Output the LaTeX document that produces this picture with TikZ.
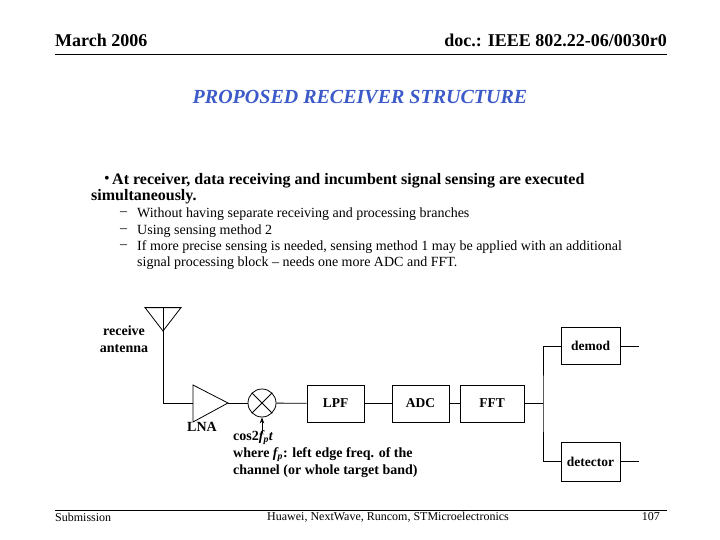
\documentclass[tikz,border=0pt]{standalone}
\usepackage{fontspec}
\setmainfont{Liberation Serif}
\usetikzlibrary{arrows.meta}
\definecolor{ttl}{RGB}{60,90,200}
\begin{document}
\begin{tikzpicture}[x=1pt,y=-1pt,
  blk/.style={draw,thick,minimum width=57pt,minimum height=37pt,font=\bfseries\fontsize{13.5}{15}\selectfont},
  wire/.style={thick},
  txt/.style={inner sep=0pt,anchor=west}]
\useasboundingbox (0,0) rectangle (720,540);
% header/footer
\node[txt,font=\bfseries\fontsize{18}{20}\selectfont] (hl) at (55,40) {March 2006};
\node[inner sep=0pt,anchor=east,font=\bfseries\fontsize{18}{20}\selectfont] (hr) at (667,40) {doc.: IEEE 802.22-06/0030r0};
\draw[thick] (55,54) -- (667,54);
\draw[thick] (55,510) -- (667,510);
\node[txt,font=\fontsize{12}{14}\selectfont] (fl) at (55,517) {Submission};
\node[inner sep=0pt,font=\fontsize{12}{14}\selectfont] (fc) at (388,517) {Huawei, NextWave, Runcom, STMicroelectronics};
\node[inner sep=0pt,anchor=east,font=\fontsize{12}{14}\selectfont] (fr) at (660,517) {107};
% title
\node[inner sep=0pt,text=ttl,font=\bfseries\itshape\fontsize{20}{22}\selectfont] (title) at (360,97) {PROPOSED RECEIVER STRUCTURE};
% bullets
\node[txt,font=\fontsize{16}{18}\selectfont] (b) at (104,180) {•};
\node[txt,font=\bfseries\fontsize{16}{18}\selectfont] (b1) at (112,181) {At receiver, data receiving and incumbent signal sensing are executed};
\node[txt,font=\bfseries\fontsize{16}{18}\selectfont] (b2) at (91,197) {simultaneously.};
\foreach \y/\t [count=\i] in {214/{Without having separate receiving and processing branches},231/{Using sensing method 2},247/{If more precise sensing is needed, sensing method 1 may be applied with an additional}}{
  \node[txt,font=\fontsize{14}{16}\selectfont] (d\i) at (120,\y) {--};
  \node[txt,font=\fontsize{14}{16}\selectfont] (s\i) at (137,\y) {\t};
}
\node[txt,font=\fontsize{14}{16}\selectfont] (s4) at (137,263) {signal processing block -- needs one more ADC and FFT.};
% diagram
\coordinate (apex) at (163,331);
\draw[thick] (145,307.6) -- (181,307.6) -- (apex) -- cycle;
\draw[thick] (163,307.6) -- (apex);
\node[align=center,font=\bfseries\fontsize{14}{17}\selectfont] (ant) at (124,339) {receive\\antenna};
\coordinate (corner) at (163,403);
\draw[thick] (193,385) -- (228,403) -- (193,422) -- cycle;
\coordinate (lnain) at (193,403);
\coordinate (lnaout) at (228,403);
\node[font=\bfseries\fontsize{14}{16}\selectfont] (lna) at (202,427) {LNA};
\node[draw,thick,circle,minimum size=28pt,inner sep=0pt] (mix) at (262,403) {};
\draw[thick] (mix.north west) -- (mix.south east) (mix.north east) -- (mix.south west);
\node[blk] (lpf) at (335.5,403.5) {LPF};
\node[blk] (adc) at (420.5,403.5) {ADC};
\node[blk,minimum width=64pt] (fft) at (492,403.5) {FFT};
\node[blk,minimum width=59pt] (demod) at (590.5,346) {demod};
\node[blk,minimum width=59pt,minimum height=39pt] (det) at (590.5,461.5) {detector};
\coordinate (jn) at (543,403.5);
\coordinate (o1) at (639,346);
\coordinate (o2) at (639,461.5);
\draw[wire] (apex) -- (corner) -- (lnain);
\draw[wire] (lnaout) -- (mix);
\draw[wire] (mix) -- (lpf);
\draw[wire] (lpf) -- (adc);
\draw[wire] (adc) -- (fft);
\draw[wire] (fft) -- (jn);
\draw[wire] (demod.west) -| (jn) |- (det.west);
\draw[wire] (demod) -- (o1);
\draw[wire] (det) -- (o2);
\coordinate (lo) at (262,433);
\draw[thick,-{Stealth[length=6pt]}] (lo) -- (mix.south);
\node[txt,anchor=north west,align=left,font=\bfseries\fontsize{14}{17}\selectfont] (cos) at (233,430) {cos2\textit{f\textsubscript{p}t}\\where \textit{f\textsubscript{p}}: left edge freq. of the\\channel (or whole target band)};
\end{tikzpicture}
\end{document}
